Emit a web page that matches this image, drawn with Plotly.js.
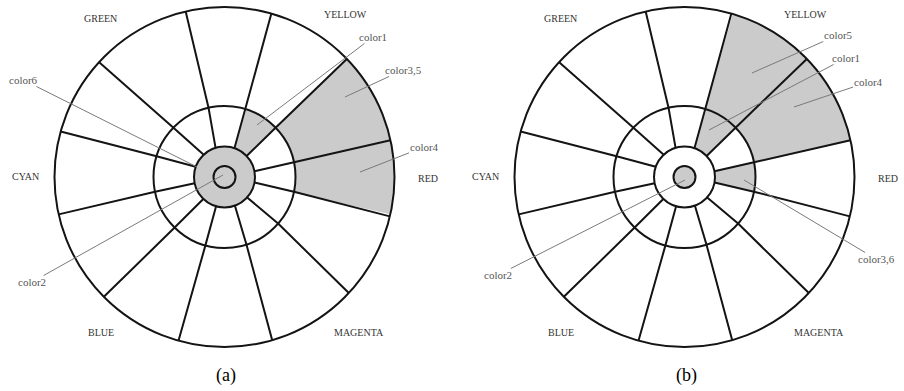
<!DOCTYPE html>
<html>
<head>
<meta charset="utf-8">
<script src="https://cdn.plot.ly/plotly-3.0.1.min.js"></script>
<style>
  html, body { margin: 0; padding: 0; background: #ffffff; }
  #chart { width: 904px; height: 391px; }
</style>
</head>
<body>
<div id="chart"></div>
<script>
// ---------------- data ----------------
// ring radii (radial units): innermost circle, inner ring, middle ring, outer ring
const ringRadii = [11, 30.5, 71, 170];
// spoke angles (degrees, counter-clockwise from "RED" direction) where each spoke
// meets the inner ring, the middle ring and the outer ring
const spokeInner = [107, 71, 43.5, 11, -10.5, -42, -70, -106, -134, -168, 160.5, 133];
const spokeMid   = [103, 73, 44, 12, -12, -41, -72, -105.6, -134.6, -168, 163, 136];
const spokeOuter = [103.2, 74, 44, 12.5, -13.4, -43, -73.7, -105.7, -135.2, -167.3, 164.5, 137.5];

// hue names around the wheel
const hueNames = ['GREEN', 'YELLOW', 'CYAN', 'RED', 'BLUE', 'MAGENTA'];

// shaded cells: ring and the two spokes bounding the cell
const shadeA_ring   = ['middle', 'outer', 'outer'];
const shadeA_spokes = [[2, 1], [3, 2], [4, 3]];
const shadeA_disk   = 1;   // centre shaded up to ringRadii[1]
const shadeB_ring   = ['middle', 'outer', 'outer', 'middle'];
const shadeB_spokes = [[2, 1], [2, 1], [3, 2], [4, 3]];
const shadeB_disk   = 0;   // centre shaded up to ringRadii[0]

// callout labels
const calloutA = ['color1', 'color3,5', 'color6', 'color4', 'color2'];
const calloutB = ['color5', 'color1', 'color4', 'color3,6', 'color2'];
const captions = ['(a)', '(b)'];

// ---------------- layout helpers ----------------
const W = 904, H = 391;
const centers = [[224.5, 177], [684.5, 177]];
const plotRadius = 175;
const rMax = 175;
const GRAY = '#cbcbcb';
const INK = '#141414';

function domainFor(c) {
  return {
    x: [(c[0] - plotRadius) / W, (c[0] + plotRadius) / W],
    y: [1 - (c[1] + plotRadius) / H, 1 - (c[1] - plotRadius) / H]
  };
}

function avg(a, b) { return (a + b) / 2; }

function buildWheel(subplot, shadeRing, shadeSpokes, diskIdx) {
  const traces = [];
  // shaded cells
  const th = [], wd = [], bs = [], rr = [];
  shadeRing.forEach((ring, k) => {
    const [i, j] = shadeSpokes[k];
    let ai, aj;
    if (ring === 'middle') {
      ai = avg(spokeInner[i], spokeMid[i]); aj = avg(spokeInner[j], spokeMid[j]);
      bs.push(ringRadii[1]); rr.push(ringRadii[2] - ringRadii[1]);
    } else {
      ai = avg(spokeMid[i], spokeOuter[i]); aj = avg(spokeMid[j], spokeOuter[j]);
      bs.push(ringRadii[2]); rr.push(ringRadii[3] - ringRadii[2]);
    }
    const lo = Math.min(ai, aj), hi = Math.max(ai, aj);
    th.push((lo + hi) / 2); wd.push(hi - lo);
  });
  // centre disk
  th.push(0); wd.push(360); bs.push(0); rr.push(ringRadii[diskIdx]);
  traces.push({
    type: 'barpolar', subplot: subplot, theta: th, width: wd, base: bs, r: rr,
    marker: { color: GRAY, line: { width: 0 } }, hoverinfo: 'skip'
  });
  // circles (outlines of full annuli)
  traces.push({
    type: 'barpolar', subplot: subplot,
    theta: [0, 0], width: [360, 360],
    base: [ringRadii[0], ringRadii[2]],
    r: [ringRadii[1] - ringRadii[0], ringRadii[3] - ringRadii[2]],
    marker: { color: 'rgba(0,0,0,0)', line: { color: INK, width: 2 } },
    hoverinfo: 'skip'
  });
  // spokes
  const sr = [], st = [];
  for (let k = 0; k < spokeInner.length; k++) {
    sr.push(ringRadii[1], ringRadii[2], ringRadii[3], null);
    st.push(spokeInner[k], spokeMid[k], spokeOuter[k], null);
  }
  traces.push({
    type: 'scatterpolar', subplot: subplot, mode: 'lines', r: sr, theta: st,
    line: { color: INK, width: 2 }, connectgaps: false, hoverinfo: 'skip'
  });
  return traces;
}

const data = []
  .concat(buildWheel('polar', shadeA_ring, shadeA_spokes, shadeA_disk))
  .concat(buildWheel('polar2', shadeB_ring, shadeB_spokes, shadeB_disk));

function polarLayout(c) {
  return {
    domain: domainFor(c),
    bgcolor: 'rgba(0,0,0,0)',
    radialaxis: { visible: false, range: [0, rMax] },
    angularaxis: { visible: false, rotation: 0, direction: 'counterclockwise', showgrid: false },
    bargap: 0
  };
}

// label placement (pixel offsets from wheel centre)
const hueOffsets = [[-124, -159], [120.5, -162], [-199, -1], [203, 1], [-124, 155], [134, 155]];
// callout text positions and pointed-at positions (pixel offsets from wheel centre)
const calloutA_text   = [[148.5, -140], [178.5, -107], [-201, -97], [199.5, -30], [-192.5, 105]];
const calloutA_target = [[32.5, -52], [120.5, -80], [-27.5, -10], [135.5, -5], [-1.5, -2]];
const calloutB_text   = [[153.5, -142], [161.5, -119], [183.5, -95], [191.5, 82], [-186.5, 98]];
const calloutB_target = [[67.5, -104], [24.5, -47], [109.5, -70], [59.5, 3], [0.5, 3]];

const annotations = [];
function px(x, y) { return { x: x / W, y: 1 - y / H }; }

centers.forEach((c, w) => {
  hueNames.forEach((name, k) => {
    const p = px(c[0] + hueOffsets[k][0], c[1] + hueOffsets[k][1]);
    annotations.push({
      xref: 'paper', yref: 'paper', x: p.x, y: p.y, text: name, showarrow: false,
      xanchor: 'center', yanchor: 'middle',
      font: { family: 'Liberation Serif, Times New Roman, serif', size: 10, color: '#333333' }
    });
  });
  const names = w === 0 ? calloutA : calloutB;
  const tx = w === 0 ? calloutA_text : calloutB_text;
  const tg = w === 0 ? calloutA_target : calloutB_target;
  names.forEach((name, k) => {
    const p = px(c[0] + tg[k][0], c[1] + tg[k][1]);
    annotations.push({
      xref: 'paper', yref: 'paper', x: p.x, y: p.y, text: name,
      showarrow: true, arrowhead: 0, arrowwidth: 1, arrowcolor: '#7a7a7a',
      ax: tx[k][0] - tg[k][0], ay: tx[k][1] - tg[k][1], standoff: 0, borderpad: 0,
      font: { family: 'Liberation Serif, Times New Roman, serif', size: 11, color: '#555555' }
    });
  });
  const cp = px(c[0] + 1.5, 375);
  annotations.push({
    xref: 'paper', yref: 'paper', x: cp.x, y: cp.y, text: captions[w], showarrow: false,
    xanchor: 'center', yanchor: 'middle',
    font: { family: 'Liberation Serif, Times New Roman, serif', size: 18, color: '#000000' }
  });
});

const layout = {
  width: W, height: H,
  margin: { l: 0, r: 0, t: 0, b: 0 },
  paper_bgcolor: '#ffffff',
  showlegend: false,
  hovermode: false,
  polar: polarLayout(centers[0]),
  polar2: polarLayout(centers[1]),
  annotations: annotations
};

Plotly.newPlot('chart', data, layout, { staticPlot: true, displayModeBar: false });
</script>
</body>
</html>
